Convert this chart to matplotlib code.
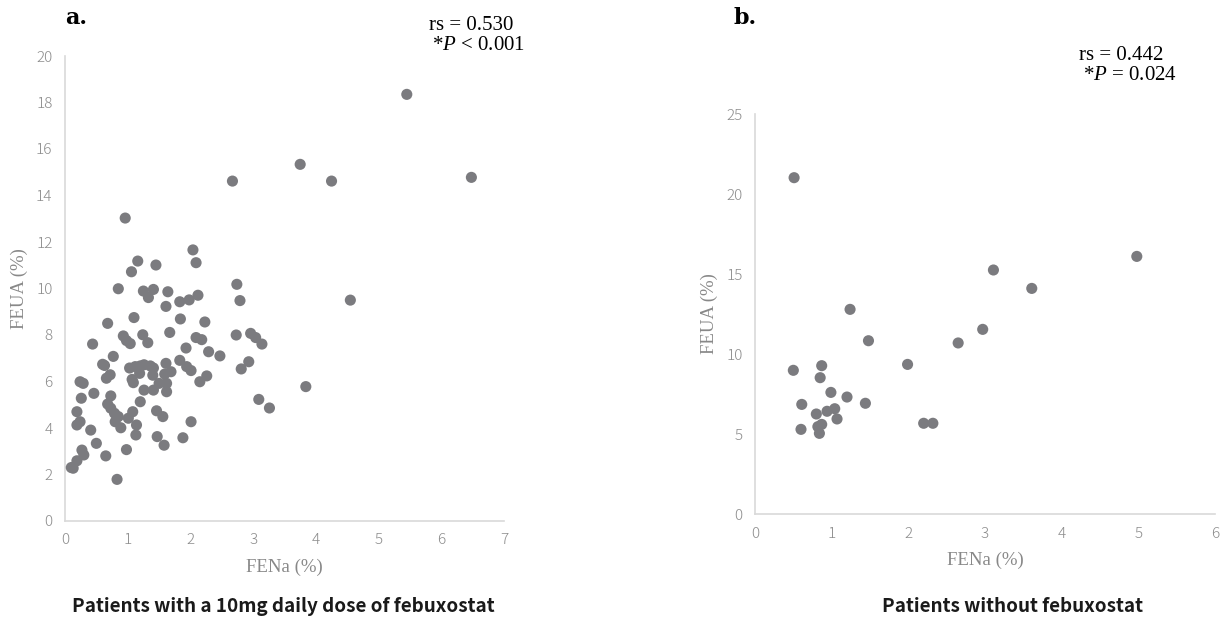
import matplotlib
matplotlib.use("Agg")
import matplotlib.pyplot as plt

plt.rcParams['font.family'] = ['Noto Sans CJK JP', 'DejaVu Sans']
plt.rcParams['mathtext.fontset'] = 'custom'
plt.rcParams['mathtext.rm'] = 'Liberation Serif'
plt.rcParams['mathtext.it'] = 'Liberation Serif:italic'

# Panel a: patients with a 10mg daily dose of febuxostat
fena_a = [5.45, 3.75, 2.67, 4.25, 6.48, 2.74, 2.79, 4.55, 2.73, 2.96, 3.04, 3.14,
          2.47, 2.93, 2.81, 3.84, 3.09, 3.26,
          0.96, 2.04, 2.09, 1.16, 1.06, 1.45, 0.85, 1.25, 1.41, 1.33, 1.64, 1.61,
          1.83, 1.98, 2.12, 1.10, 0.68, 1.84, 2.23, 1.67, 0.93, 0.98, 1.04, 1.24,
          1.32, 0.44, 2.09, 2.18, 1.93, 2.29, 0.77,
          0.60, 0.63, 1.03, 1.12, 1.20, 1.26, 1.36, 1.41, 1.19, 1.40, 1.61, 1.83,
          1.94, 2.01, 1.59, 1.69, 0.72, 0.66, 1.07, 1.09, 1.50, 1.62, 1.62, 1.26,
          1.41, 2.26, 2.15, 0.24, 0.29, 0.46, 0.26, 0.73, 1.20, 0.68, 0.73, 0.79,
          0.85, 0.80, 0.89, 1.08, 1.01, 1.14, 1.13, 1.46, 1.56, 2.01, 0.19, 0.19,
          0.24, 0.41, 0.50, 1.47, 1.58, 1.88, 0.98, 0.27, 0.30, 0.65, 0.19, 0.13,
          0.10, 0.83]
feua_a = [18.35, 15.34, 14.62, 14.62, 14.78, 10.18, 9.48, 9.50, 8.00, 8.07, 7.89, 7.61,
          7.10, 6.85, 6.54, 5.78, 5.23, 4.86,
          13.03, 11.66, 11.11, 11.18, 10.72, 11.01, 9.99, 9.89, 9.96, 9.61, 9.86, 9.23,
          9.43, 9.51, 9.71, 8.75, 8.50, 8.69, 8.56, 8.11, 7.96, 7.76, 7.63, 8.01,
          7.67, 7.61, 7.89, 7.80, 7.44, 7.28, 7.08,
          6.74, 6.69, 6.58, 6.64, 6.67, 6.72, 6.67, 6.58, 6.35, 6.27, 6.78, 6.91,
          6.64, 6.47, 6.32, 6.42, 6.29, 6.14, 6.09, 5.95, 5.92, 5.92, 5.56, 5.63,
          5.63, 6.24, 5.99, 5.99, 5.92, 5.49, 5.28, 5.38, 5.13, 5.03, 4.85, 4.63,
          4.49, 4.27, 4.01, 4.70, 4.42, 4.13, 3.70, 4.74, 4.49, 4.27, 4.70, 4.13,
          4.27, 3.91, 3.34, 3.63, 3.26, 3.58, 3.07, 3.05, 2.84, 2.80, 2.59, 2.27,
          2.30, 1.79]

# Panel b: patients without febuxostat
fena_b = [0.51, 3.11, 3.61, 1.24, 1.48, 2.65, 2.97, 1.99, 0.50, 0.87, 0.85, 0.99,
          1.20, 1.44, 0.61, 0.80, 0.94, 1.04, 1.07, 2.20, 2.32, 0.60, 0.82, 0.87,
          0.84, 4.98]
feua_b = [21.02, 15.25, 14.10, 12.79, 10.83, 10.69, 11.54, 9.35, 8.98, 9.27, 8.52, 7.60,
          7.31, 6.92, 6.85, 6.25, 6.42, 6.58, 5.94, 5.67, 5.67, 5.29, 5.46, 5.60,
          5.04, 16.10]

W, H = 1229, 634
fig = plt.figure(figsize=(W / 100, H / 100), dpi=100)

dot_color = '#7b7b7f'
spine_color = '#d9d9d9'
tick_color = '#8c8c8c'


def style_axes(ax, xmax, ymax, ystep):
    ax.set_xlim(0, xmax)
    ax.set_ylim(0, ymax)
    ax.set_xticks(range(0, xmax + 1))
    ax.set_yticks(range(0, ymax + 1, ystep))
    for side in ['top', 'right']:
        ax.spines[side].set_visible(False)
    for side in ['left', 'bottom']:
        ax.spines[side].set_color(spine_color)
        ax.spines[side].set_linewidth(1.2)
    ax.tick_params(length=0, colors=tick_color, labelsize=11, pad=9)
    for lab in ax.get_xticklabels() + ax.get_yticklabels():
        lab.set_fontweight('light')
    ax.set_xlabel('FENa (%)', family='Liberation Serif', color='#888888',
                  fontsize=13.5, labelpad=8)
    ax.set_ylabel('FEUA (%)', family='Liberation Serif', color='#888888',
                  fontsize=13.5, labelpad=6)


# panel a
ax1 = fig.add_axes([65 / W, 113 / H, 439 / W, 465 / H])
ax1.scatter(fena_a, feua_a, s=64, color=dot_color, edgecolors='none', zorder=3)
style_axes(ax1, 7, 20, 2)

# panel b
ax2 = fig.add_axes([755 / W, 120 / H, 460 / W, 400 / H])
ax2.scatter(fena_b, feua_b, s=64, color=dot_color, edgecolors='none', zorder=3)
style_axes(ax2, 6, 25, 5)

# statistics text
stat_kw = dict(family='Liberation Serif', fontsize=15, va='center')
fig.text(429 / W, 1 - 26 / H, 'rs = 0.530', **stat_kw)
fig.text(432 / W, 1 - 46 / H, '*$P$ < 0.001', **stat_kw)
fig.text(1079 / W, 1 - 55 / H, 'rs = 0.442', **stat_kw)
fig.text(1083 / W, 1 - 75 / H, '*$P$ = 0.024', **stat_kw)

# panel letters
fig.text(65 / W, 1 - 18 / H, 'a.', family='DejaVu Serif', fontweight='bold',
         fontsize=16, va='center')
fig.text(733 / W, 1 - 18 / H, 'b.', family='DejaVu Serif', fontweight='bold',
         fontsize=16, va='center')

# group captions
fig.text(283 / W, 1 - 606 / H, 'Patients with a 10mg daily dose of febuxostat',
         ha='center', va='center', fontsize=13.6, fontweight='bold', color='#1a1a1a')
fig.text(1012 / W, 1 - 606 / H, 'Patients without febuxostat',
         ha='center', va='center', fontsize=13.6, fontweight='bold', color='#1a1a1a')

fig.savefig('out.png', dpi=100)
